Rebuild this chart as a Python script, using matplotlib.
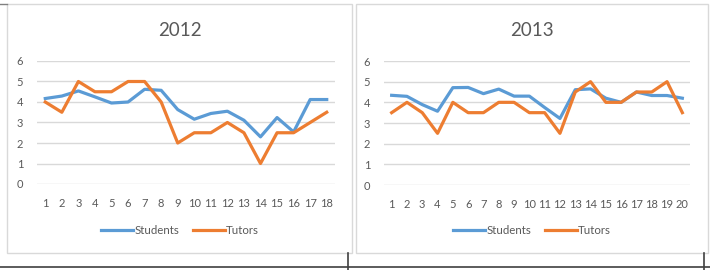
import matplotlib.pyplot as plt
from matplotlib.patches import Rectangle
from matplotlib.lines import Line2D

plt.rcParams['font.family'] = ['Lato', 'DejaVu Sans']

W, H = 710, 270

# 2012 data
x2012 = list(range(1, 19))
students_2012 = [4.17, 4.29, 4.54, 4.25, 3.95, 4.0, 4.62, 4.57, 3.63, 3.16,
                 3.44, 3.55, 3.11, 2.3, 3.24, 2.54, 4.12, 4.12]
tutors_2012 = [4, 3.5, 5, 4.5, 4.5, 5, 5, 4, 2, 2.5, 2.5, 3, 2.5, 1, 2.5, 2.5, 3, 3.5]

# 2013 data
x2013 = list(range(1, 21))
students_2013 = [4.34, 4.29, 3.89, 3.57, 4.71, 4.72, 4.42, 4.64, 4.3, 4.3,
                 3.75, 3.22, 4.61, 4.65, 4.2, 4.0, 4.5, 4.33, 4.33, 4.2]
tutors_2013 = [3.5, 4, 3.5, 2.5, 4, 3.5, 3.5, 4, 4, 3.5, 3.5, 2.5, 4.5, 5, 4, 4,
               4.5, 4.5, 5, 3.5]

blue = '#5B9BD5'
orange = '#ED7D31'
grey = '#595959'

fig = plt.figure(figsize=(W / 100, H / 100), dpi=100)


def px(x0, y0, x1, y1):
    # pixel box (top-left origin) -> figure fraction rect
    return [x0 / W, 1 - y1 / H, (x1 - x0) / W, (y1 - y0) / H]


# panel borders
for x0, x1 in [(7, 352), (356, 708)]:
    fig.patches.append(Rectangle((x0 / W, 1 - 253 / H), (x1 - x0) / W, 249 / H,
                                 transform=fig.transFigure, fill=False,
                                 ec='#D9D9D9', lw=1))
# table lines
fig.add_artist(Line2D([0, 1], [1 - 267 / H] * 2, color='#404040', lw=1.2))
fig.add_artist(Line2D([348 / W] * 2, [0, 1 - 253 / H], color='#404040', lw=1.2))
fig.add_artist(Line2D([704 / W] * 2, [0, 1 - 253 / H], color='#404040', lw=1.2))
fig.add_artist(Line2D([0, 7 / W], [1 - 4 / H] * 2, color='#808080', lw=1))

panels = [
    ('2012', x2012, students_2012, tutors_2012, (37, 61, 335, 184), 180),
    ('2013', x2013, students_2013, tutors_2013, (384, 61, 690, 185), 532),
]

for title, xs, st, tu, box, cx in panels:
    ax = fig.add_axes(px(*box))
    ax.plot(xs, st, color=blue, lw=2.3, label='Students')
    ax.plot(xs, tu, color=orange, lw=2.3, label='Tutors')
    ax.set_xlim(0.5, len(xs) + 0.5)
    ax.set_ylim(0, 6)
    ax.set_xticks(xs)
    ax.set_yticks(range(7))
    ax.grid(axis='y', color='#D9D9D9', lw=1)
    ax.set_axisbelow(True)
    for s in ax.spines.values():
        s.set_visible(False)
    ax.tick_params(length=0, colors=grey, labelsize=8)
    ax.tick_params(axis='x', pad=10)
    ax.tick_params(axis='y', pad=10)
    fig.text(cx / W, 1 - 30 / H, title, ha='center', va='center',
             fontsize=13.5, color=grey)
    fig.legend(handles=ax.get_lines(), loc='center',
               bbox_to_anchor=(cx / W, 1 - 231 / H), ncol=2, frameon=False,
               fontsize=8.3, labelcolor=grey, handlelength=2.8,
               handletextpad=0.1, columnspacing=1.2)

fig.savefig('out.png', dpi=100)
